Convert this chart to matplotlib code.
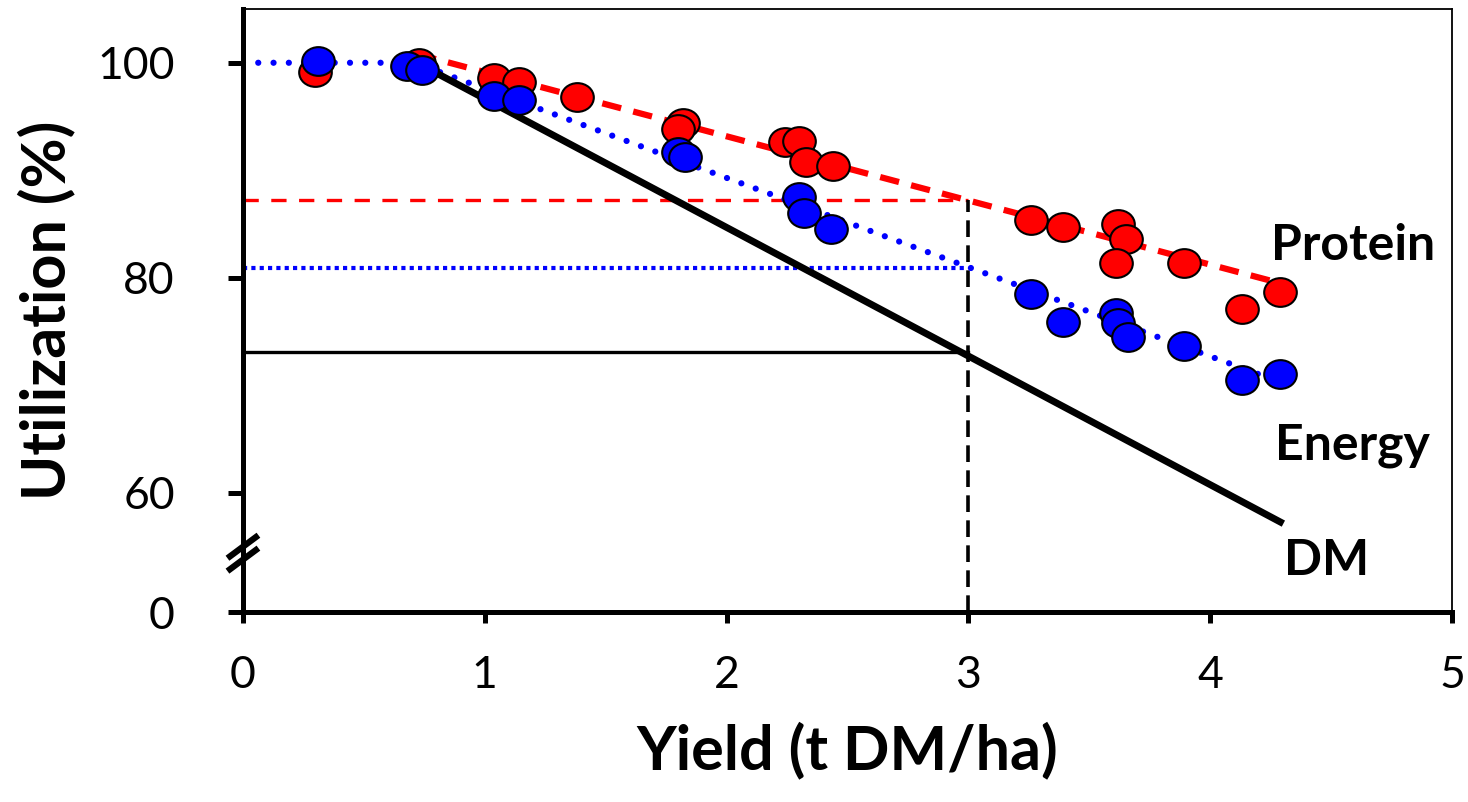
import numpy as np
import matplotlib
matplotlib.use('Agg')
import matplotlib.pyplot as plt
from matplotlib.path import Path
from matplotlib.markers import MarkerStyle

plt.rcParams['font.family'] = ['Lato', 'DejaVu Sans']
plt.rcParams['lines.scale_dashes'] = False

# measured utilization vs. yield
protein_x = [0.30, 0.73, 1.04, 1.14, 1.38, 1.82, 1.80, 2.24, 2.30, 2.33, 2.44,
             3.26, 3.39, 3.62, 3.65, 3.61, 3.89, 4.13, 4.29]
protein_y = [99.1, 100.0, 98.6, 98.2, 96.8, 94.4, 93.8, 92.6, 92.7, 90.8, 90.4,
             85.4, 84.7, 85.0, 83.6, 81.4, 81.4, 77.1, 78.7]

energy_x = [0.31, 0.68, 0.74, 1.04, 1.14, 1.80, 1.83, 2.30, 2.32, 2.43,
            3.26, 3.39, 3.61, 3.62, 3.66, 3.89, 4.13, 4.29]
energy_y = [100.2, 99.7, 99.3, 96.9, 96.5, 91.7, 91.2, 87.5, 86.0, 84.5,
            78.5, 75.9, 76.7, 75.8, 74.5, 73.7, 70.5, 71.1]

# fitted response lines
protein_fit_x = [0.72, 4.29]
protein_fit_y = [100.8, 79.5]
energy_fit_x = [0.0, 0.71, 4.29]
energy_fit_y = [100.0, 100.0, 70.3]
dm_fit_x = [0.72, 4.29]
dm_fit_y = [100.0, 57.3]

read_yield = 3.0
read_protein = 87.2
read_energy = 80.95
read_dm = 73.1

# y axis is broken: the bottom of the axis stands for 0
y_floor = 48.93
y_break = 54.4
yticks = [y_floor, 60, 80, 100]
ytick_labels = ['0', '60', '80', '100']
xticks = [0, 1, 2, 3, 4, 5]

# slightly flattened circle marker
circ = Path.unit_circle()
oval = Path(circ.vertices * np.array([1.0, 0.88]), circ.codes)

fig = plt.figure(figsize=(14.68, 8.02), dpi=100)
ax = fig.add_axes([0.1655, 0.2369, 0.9891 - 0.1655, 0.9888 - 0.2369])

# reading lines at 3 t/ha
ax.plot([0, read_yield], [read_protein, read_protein], color='red', lw=2.4,
        linestyle=(0, (11, 9)), zorder=1)
ax.plot([0, read_yield], [read_energy, read_energy], color='blue', lw=3,
        linestyle=(0, (3, 3)), zorder=1)
ax.plot([0, read_yield], [read_dm, read_dm], color='black', lw=2.4, zorder=1)
ax.plot([read_yield, read_yield], [y_floor, read_protein], color='black', lw=2.6,
        linestyle=(0, (12, 6)), zorder=1)

# trend lines
ax.plot(protein_fit_x, protein_fit_y, color='red', lw=4.5,
        linestyle=(0, (14, 9)), zorder=2)
ax.plot(energy_fit_x, energy_fit_y, color='blue', lw=4.5,
        linestyle=(0, (0.01, 11)), dash_capstyle='round', zorder=2)
ax.plot(dm_fit_x, dm_fit_y, color='black', lw=5, zorder=2)

ax.plot(protein_x, protein_y, linestyle='none', marker=MarkerStyle(oval), ms=23.5,
        mfc='red', mec='black', mew=1.5, zorder=3)
ax.plot(energy_x, energy_y, linestyle='none', marker=MarkerStyle(oval), ms=23.5,
        mfc='blue', mec='black', mew=1.5, zorder=4)

ax.text(4.59, 81.67, 'Protein', fontsize=36, fontweight='bold', ha='center', va='baseline')
ax.text(4.59, 63.07, 'Energy', fontsize=36, fontweight='bold', ha='center', va='baseline')
ax.text(4.48, 52.37, 'DM', fontsize=36, fontweight='bold', ha='center', va='baseline')

ax.set_xlim(0, 5)
ax.set_ylim(y_floor, 105.0)
ax.set_xticks(xticks)
ax.set_yticks(yticks)
ax.set_yticklabels(ytick_labels)

for side in ['left', 'bottom']:
    ax.spines[side].set_linewidth(3.6)
for side in ['top', 'right']:
    ax.spines[side].set_linewidth(1.3)
ax.tick_params(axis='y', direction='out', length=11, width=3.6, pad=38, labelsize=32)
ax.tick_params(axis='x', direction='out', length=8, width=3.6, pad=23, labelsize=32)

# axis break marks on the left spine
brk = ax.get_yaxis_transform()
for yc in [y_break + 0.6, y_break - 0.6]:
    ax.plot([-0.0128, 0.0128], [yc - 1.07, yc + 1.07], transform=brk, color='black',
            lw=4.5, solid_capstyle='butt', clip_on=False, zorder=6)

ax.set_xlabel('Yield (t DM/ha)', fontsize=44, fontweight='bold', labelpad=18)
ax.set_ylabel('Utilization (%)', fontsize=44, fontweight='bold', labelpad=16)

plt.savefig('out.png', dpi=100)
plt.close()
